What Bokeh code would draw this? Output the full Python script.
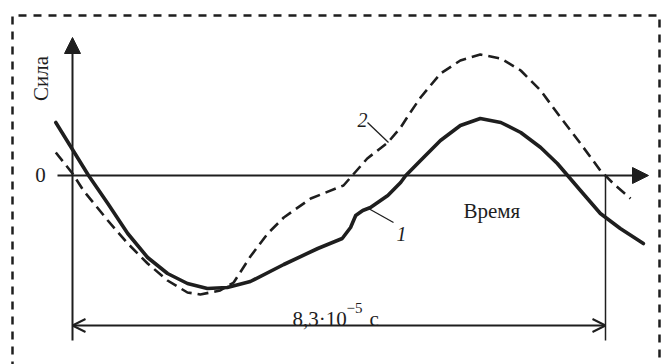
import math
from bokeh.plotting import figure
from bokeh.models import Range1d, Arrow, NormalHead, OpenHead
from bokeh.core.properties import value
from bokeh.embed import file_html
from bokeh.resources import INLINE

# ---- data (time in units of 1e-5 s, force in arbitrary units) ----
period = 8.3  # 8,3·10^-5 s

# curve 1 (solid)
t1 = [-0.26, 0.00, 0.25, 0.55, 0.86, 1.17, 1.48, 1.79, 2.10, 2.41, 2.77, 3.29,
      3.82, 4.20, 4.33, 4.41, 4.52, 4.64, 4.91, 5.11, 5.19, 5.42, 5.73, 6.04,
      6.35, 6.67, 6.98, 7.29, 7.55, 7.71, 7.91, 8.22, 8.53, 8.89]
f1 = [5.3, 2.6, 0.0, -2.8, -5.8, -8.2, -9.8, -10.8, -11.3, -11.2, -10.6, -8.9,
      -7.3, -6.3, -5.2, -4.0, -3.5, -3.2, -2.0, -0.7, 0.0, 1.5, 3.5, 5.0,
      5.7, 5.3, 4.3, 2.8, 1.2, 0.0, -1.5, -3.8, -5.3, -6.8]

# curve 2 (dashed)
t2 = [-0.26, 0.00, 0.17, 0.55, 0.86, 1.17, 1.48, 1.79, 1.99, 2.30, 2.51, 2.77,
      3.04, 3.29, 3.71, 4.22, 4.33, 4.59, 4.91, 5.11, 5.26, 5.42, 5.73, 6.04,
      6.35, 6.67, 6.98, 7.29, 7.60, 7.91, 8.22, 8.42, 8.69]
f2 = [2.3, 0.2, -1.5, -4.5, -6.8, -8.8, -10.5, -11.7, -11.9, -11.5, -10.7, -8.1,
      -5.8, -4.2, -2.3, -1.0, -0.2, 1.7, 3.3, 4.8, 6.3, 7.8, 10.2, 11.5,
      12.1, 11.7, 10.5, 8.5, 5.8, 3.2, 0.5, -0.8, -2.3]

# ---- layout helpers (pixel -> data) ----
W, H = 661, 364
X0, Y0 = 72, 175          # origin in pixels
SX, SY = (605 - 72) / period, 10.0


def tx(px):
    return (px - X0) / SX


def fy(py):
    return (Y0 - py) / SY


p = figure(width=W, height=H, output_backend="svg", toolbar_location=None,
           x_range=Range1d(tx(0), tx(W)), y_range=Range1d(fy(H), fy(0)),
           x_axis_type=None, y_axis_type=None, min_border=0,
           outline_line_color=None, background_fill_color="white",
           border_fill_color="white")
p.grid.visible = False

ink = "#1e1e1e"

# dashed frame
p.line([tx(12), tx(12), tx(659), tx(659)], [fy(H + 5), fy(15), fy(15), fy(H + 5)],
       line_color=ink, line_width=2.5, line_dash="8 7")

# axes with arrows
p.add_layout(Arrow(end=NormalHead(size=16, fill_color=ink, line_color=ink),
                   x_start=0, y_start=fy(340), x_end=0, y_end=fy(37),
                   line_color=ink, line_width=2))
p.add_layout(Arrow(end=NormalHead(size=16, fill_color=ink, line_color=ink),
                   x_start=tx(57), y_start=0, x_end=tx(648), y_end=0,
                   line_color=ink, line_width=2))

# right extension line & dimension line
p.line([period, period], [0, fy(340)], line_color=ink, line_width=1.5)
p.add_layout(Arrow(start=OpenHead(size=13, line_color=ink, line_width=2),
                   end=OpenHead(size=13, line_color=ink, line_width=2),
                   x_start=0, y_start=fy(325), x_end=period, y_end=fy(325),
                   line_color=ink, line_width=2))

# curves
p.line(t2, f2, line_color=ink, line_width=2.6, line_dash="11 6",
       line_join="round")
p.line(t1, f1, line_color=ink, line_width=3.6, line_join="round",
       line_cap="round")

# leader lines for curve labels
p.line([tx(367), tx(388)], [fy(122), fy(142)], line_color=ink, line_width=1.3)
p.line([tx(368), tx(393)], [fy(208), fy(222)], line_color=ink, line_width=1.3)

serif = value("Liberation Serif")
p.text(x=[tx(40)], y=[fy(78)], text=["Сила"], angle=math.pi / 2,
       text_align="center", text_baseline="middle", text_font=serif,
       text_font_size="21px", text_color=ink)
p.text(x=[tx(40)], y=[fy(174)], text=["0"], text_align="center",
       text_baseline="middle", text_font=serif, text_font_size="21px",
       text_color=ink)
p.text(x=[tx(463)], y=[fy(210)], text=["Время"], text_align="left",
       text_baseline="alphabetic", text_font=serif, text_font_size="21px",
       text_color=ink)
p.text(x=[tx(357)], y=[fy(119)], text=["2"], text_align="left",
       text_baseline="alphabetic", text_font=serif, text_font_size="20px",
       text_font_style="italic", text_color=ink)
p.text(x=[tx(396)], y=[fy(233)], text=["1"], text_align="left",
       text_baseline="alphabetic", text_font=serif, text_font_size="20px",
       text_font_style="italic", text_color=ink)
p.text(x=[tx(292)], y=[fy(318)], text=["8,3·10"], text_align="left",
       text_baseline="alphabetic", text_font=serif, text_font_size="21px",
       text_color=ink)
p.text(x=[tx(346)], y=[fy(307)], text=["−5"], text_align="left",
       text_baseline="alphabetic", text_font=serif, text_font_size="15px",
       text_color=ink)
p.text(x=[tx(369)], y=[fy(318)], text=["с"], text_align="left",
       text_baseline="alphabetic", text_font=serif, text_font_size="21px",
       text_color=ink)

open("out.html", "w").write(file_html(p, INLINE))
